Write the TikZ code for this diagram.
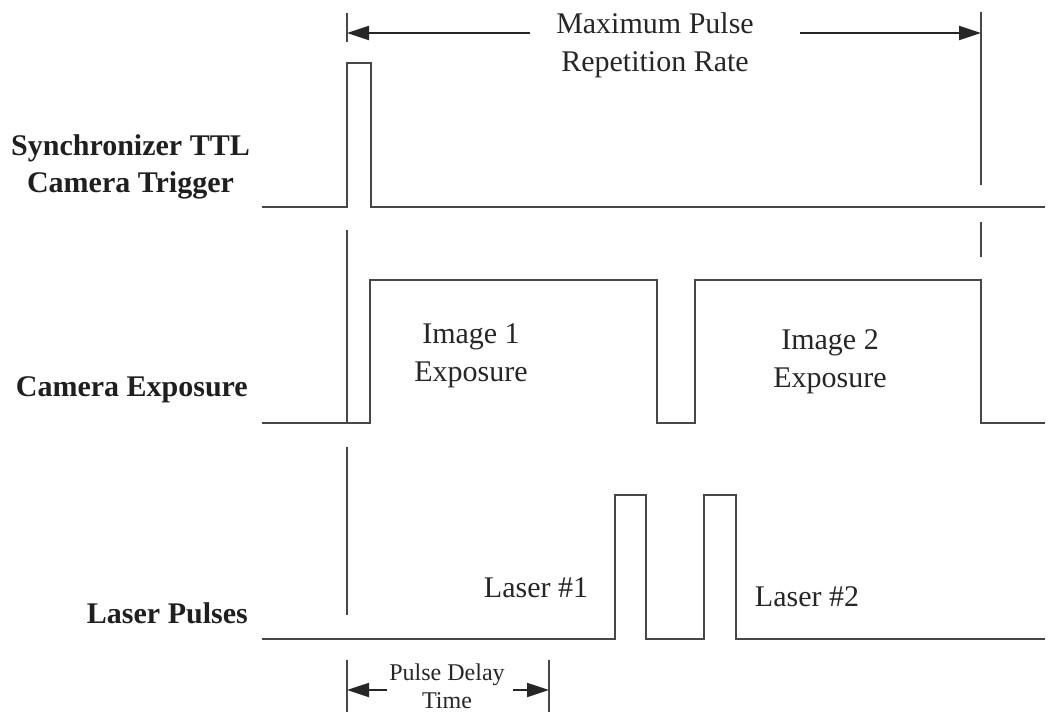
\documentclass[tikz,border=0pt]{standalone}
\usepackage{fontspec}
\setmainfont{Liberation Serif}
\usetikzlibrary{arrows.meta}
\begin{document}
\begin{tikzpicture}[x=1pt,y=-1pt,
  sig/.style={line width=1.8pt, draw=black!72, line join=miter},
  guide/.style={line width=1.8pt, draw=black!72},
  dimarrow/.style={line width=1.8pt, draw=black!85, -{Triangle[length=22pt,width=14pt]}},
  lbl/.style={font=\fontsize{30}{37}\selectfont\bfseries, align=center, anchor=east, inner sep=0pt, text=black!88},
  txt/.style={font=\fontsize{30}{38}\selectfont, align=center, inner sep=0pt, text=black!85},
  smalltxt/.style={font=\fontsize{24}{28}\selectfont, align=center, inner sep=0pt, text=black!85}]
\useasboundingbox (0,0) rectangle (1049,715);

% row labels
\node[lbl] (trig) at (250,167) {Synchronizer TTL\\Camera Trigger};
\node[lbl] (cexp) at (248,390) {Camera Exposure};
\node[lbl] (lpul) at (248,613) {Laser Pulses};

% in-plot texts
\node[txt] (img1) at (471,356) {Image 1\\Exposure};
\node[txt] (img2) at (830,362) {Image 2\\Exposure};
\node[txt] (las1) at (536,588) {Laser \#1};
\node[txt] (las2) at (807,597) {Laser \#2};
\node[txt] (mprr) at (655,45) {Maximum Pulse\\Repetition Rate};
\node[smalltxt] (pdt) at (447,686) {Pulse Delay\\Time};

% signals
\draw[sig] (262,207) -- (347,207) -- (347,63) -- (371,63) -- (371,207) -- (1045,207);
\draw[sig] (262,423) -- (370,423) -- (370,280) -- (657,280) -- (657,423)
  -- (695,423) -- (695,280) -- (981,280) -- (981,423) -- (1045,423);
\draw[sig] (262,639) -- (615,639) -- (615,495) -- (646,495) -- (646,639)
  -- (704,639) -- (704,495) -- (736,495) -- (736,639) -- (1045,639);

% guide lines
\coordinate (L1a) at (347,13);  \coordinate (L1b) at (347,42);
\coordinate (L2a) at (347,230); \coordinate (L2b) at (347,423);
\coordinate (L3a) at (347,447); \coordinate (L3b) at (347,615);
\coordinate (L4a) at (347,660); \coordinate (L4b) at (347,712);
\coordinate (R4a) at (549,660); \coordinate (R4b) at (549,712);
\coordinate (R1a) at (981,12);  \coordinate (R1b) at (981,185);
\coordinate (R2a) at (981,222); \coordinate (R2b) at (981,257);
\draw[guide] (L1a) -- (L1b);
\draw[guide] (L2a) -- (L2b);
\draw[guide] (L3a) -- (L3b);
\draw[guide] (L4a) -- (L4b);
\draw[guide] (R4a) -- (R4b);
\draw[guide] (R1a) -- (R1b);
\draw[guide] (R2a) -- (R2b);

% dimension arrows
\coordinate (A1s) at (530,33); \coordinate (A1e) at (347,33);
\coordinate (A2s) at (800,33); \coordinate (A2e) at (981,33);
\coordinate (B1s) at (387,690); \coordinate (B1e) at (347,690);
\coordinate (B2s) at (513,690); \coordinate (B2e) at (549,690);
\draw[dimarrow] (A1s) -- (A1e);
\draw[dimarrow] (A2s) -- (A2e);
\draw[dimarrow] (B1s) -- (B1e);
\draw[dimarrow] (B2s) -- (B2e);
\end{tikzpicture}
\end{document}
